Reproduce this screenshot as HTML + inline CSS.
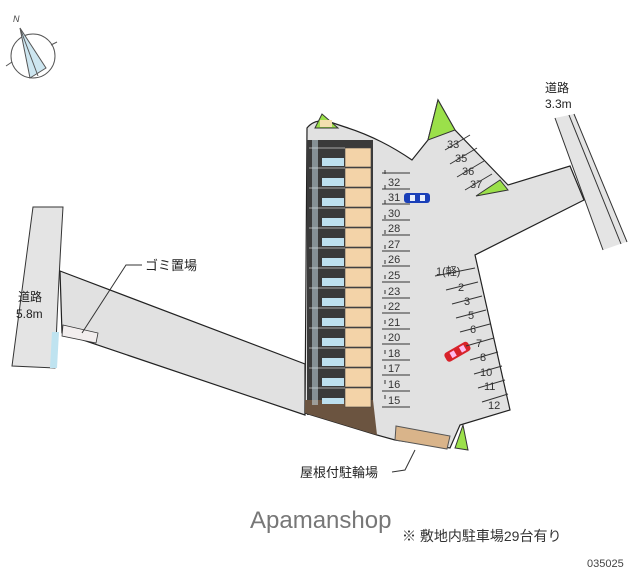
<!DOCTYPE html>
<html><head><meta charset="utf-8"><style>
html,body{margin:0;padding:0;background:#fff;}
svg{display:block;}
text{font-family:"Liberation Sans","Noto Sans CJK JP",sans-serif;}
</style></head><body>
<svg width="640" height="582" viewBox="0 0 640 582" xmlns="http://www.w3.org/2000/svg">
<!-- compass -->
<g stroke="#555" stroke-width="1" fill="none">
<circle cx="33" cy="56" r="22"/>
<line x1="6" y1="66" x2="12" y2="62"/><line x1="51" y1="45" x2="57" y2="42"/>
<polygon points="20,28 46,68 30,78" fill="#cde6f0"/>
<line x1="20" y1="28" x2="38" y2="76"/>
</g>
<text x="13" y="22" font-size="9" fill="#444" font-style="italic">N</text>
<!-- left road -->
<path d="M33,207 L63,207 Q58,290 55,368 L12,366 Q22,290 33,207Z" fill="#e4e4e4" stroke="#333" stroke-width="1"/>
<polygon points="52,332 59,332 57,368 50,368" fill="#bfe3f0"/>
<!-- left strip -->
<polygon points="60,271 305,364 305,415 62,333" fill="#e1e1e1" stroke="#222" stroke-width="1.2"/>
<polygon points="63,325 98,333 96,343 62,336" fill="#f2eeee" stroke="#333" stroke-width="0.8"/>
<polyline points="82,333 126,265 142,265" fill="none" stroke="#333" stroke-width="1"/>
<text x="145" y="270" font-size="13" fill="#222">ゴミ置場</text>
<text x="18" y="301" font-size="12" fill="#222">道路</text>
<text x="16" y="318" font-size="12" fill="#222">5.8m</text>
<!-- right road -->
<polygon points="555,118 574,114 626,242 603,250" fill="#e4e4e4"/>
<line x1="555" y1="118" x2="603" y2="250" stroke="#333"/>
<line x1="569" y1="115" x2="621" y2="244" stroke="#333"/>
<line x1="574" y1="114" x2="627" y2="242" stroke="#333"/>
<text x="545" y="92" font-size="12" fill="#222">道路</text>
<text x="545" y="108" font-size="12" fill="#222">3.3m</text>
<!-- main lot -->
<path d="M307,128 Q315,118 330,122 L345,127 Q380,138 412,160 L428,140 L438,100 L455,130 L508,185 L570,166 L584,200 L475,255 L510,410 L460,425 L450,448 L395,440 L377,435 L305,413 Z" fill="#e1e1e1" stroke="#222" stroke-width="1.2"/>
<polygon points="428,140 438,100 455,130" fill="#9be04a" stroke="#333"/>
<polygon points="476,196 500,180 508,190" fill="#9be04a" stroke="#333"/>
<polygon points="315,128 322,114 338,128" fill="#9be04a" stroke="#333"/>
<rect x="320" y="120" width="12" height="7" fill="#f3dfb0"/>
<polygon points="455,448 463,425 468,450" fill="#9be04a" stroke="#333"/>
<!-- bike shed -->
<polygon points="396,426 450,436 447,449 395,440" fill="#d9b48a" stroke="#555"/>
<polyline points="415,450 405,470 392,472" fill="none" stroke="#333"/>
<text x="300" y="477" font-size="13" fill="#222">屋根付駐輪場</text>
<!-- building -->
<rect x="307" y="140" width="66" height="275" fill="#3a3a3a"/>
<polygon points="305,400 373,400 377,435 305,413" fill="#6b5440"/>
<g fill="#f3d3a8" stroke="#444" stroke-width="0.6">
<rect x="345" y="148" width="26" height="19"/><rect x="345" y="168" width="26" height="19"/><rect x="345" y="188" width="26" height="19"/><rect x="345" y="208" width="26" height="19"/><rect x="345" y="228" width="26" height="19"/><rect x="345" y="248" width="26" height="19"/><rect x="345" y="268" width="26" height="19"/><rect x="345" y="288" width="26" height="19"/><rect x="345" y="308" width="26" height="19"/><rect x="345" y="328" width="26" height="19"/><rect x="345" y="348" width="26" height="19"/><rect x="345" y="368" width="26" height="19"/><rect x="345" y="388" width="26" height="19"/>
</g>
<g fill="#bde0ef">
<rect x="322" y="158" width="22" height="8"/><rect x="322" y="178" width="22" height="8"/><rect x="322" y="198" width="22" height="8"/><rect x="322" y="218" width="22" height="8"/><rect x="322" y="238" width="22" height="8"/><rect x="322" y="258" width="22" height="8"/><rect x="322" y="278" width="22" height="8"/><rect x="322" y="298" width="22" height="8"/><rect x="322" y="318" width="22" height="8"/><rect x="322" y="338" width="22" height="8"/><rect x="322" y="358" width="22" height="8"/><rect x="322" y="378" width="22" height="8"/><rect x="322" y="398" width="22" height="6"/>
</g>
<g stroke="#ccc" stroke-width="0.8">
<line x1="309" y1="148" x2="345" y2="148"/><line x1="309" y1="168" x2="345" y2="168"/><line x1="309" y1="188" x2="345" y2="188"/><line x1="309" y1="208" x2="345" y2="208"/><line x1="309" y1="228" x2="345" y2="228"/><line x1="309" y1="248" x2="345" y2="248"/><line x1="309" y1="268" x2="345" y2="268"/><line x1="309" y1="288" x2="345" y2="288"/><line x1="309" y1="308" x2="345" y2="308"/><line x1="309" y1="328" x2="345" y2="328"/><line x1="309" y1="348" x2="345" y2="348"/><line x1="309" y1="368" x2="345" y2="368"/><line x1="309" y1="388" x2="345" y2="388"/>
</g>
<rect x="312" y="140" width="6" height="265" fill="#cfe6ef" opacity="0.5"/>
<!-- left parking column -->
<g stroke="#333" stroke-width="1">
<line x1="382" y1="173" x2="410" y2="173"/><line x1="382" y1="189" x2="410" y2="189"/><line x1="382" y1="204" x2="410" y2="204"/><line x1="382" y1="220" x2="410" y2="220"/><line x1="382" y1="235" x2="410" y2="235"/><line x1="382" y1="251" x2="410" y2="251"/><line x1="382" y1="266" x2="410" y2="266"/><line x1="382" y1="282" x2="410" y2="282"/><line x1="382" y1="298" x2="410" y2="298"/><line x1="382" y1="313" x2="410" y2="313"/><line x1="382" y1="329" x2="410" y2="329"/><line x1="382" y1="344" x2="410" y2="344"/><line x1="382" y1="360" x2="410" y2="360"/><line x1="382" y1="375" x2="410" y2="375"/><line x1="382" y1="391" x2="410" y2="391"/><line x1="382" y1="407" x2="410" y2="407"/>
<line x1="385" y1="170" x2="385" y2="408" stroke-dasharray="4,11"/>
</g>
<g font-size="11" fill="#333">
<text x="388" y="186">32</text><text x="388" y="201">31</text><text x="388" y="217">30</text><text x="388" y="232">28</text><text x="388" y="248">27</text><text x="388" y="263">26</text><text x="388" y="279">25</text><text x="388" y="295">23</text><text x="388" y="310">22</text><text x="388" y="326">21</text><text x="388" y="341">20</text><text x="388" y="357">18</text><text x="388" y="372">17</text><text x="388" y="388">16</text><text x="388" y="404">15</text>
</g>
<!-- blue car -->
<rect x="404" y="193" width="26" height="10" rx="3" fill="#1a3fb8"/>
<rect x="410" y="195" width="5" height="6" fill="#e8eefc"/><rect x="420" y="195" width="5" height="6" fill="#e8eefc"/>
<!-- red car -->
<g transform="rotate(-30 457 352)"><rect x="444" y="347" width="27" height="10" rx="3" fill="#d8222a"/><rect x="450" y="349" width="5" height="6" fill="#fbe"/><rect x="461" y="349" width="5" height="6" fill="#fbe"/></g>
<!-- right parking -->
<g stroke="#333" stroke-width="1">
<line x1="435" y1="276" x2="475" y2="268"/><line x1="446" y1="290" x2="478" y2="282"/><line x1="452" y1="304" x2="482" y2="296"/><line x1="456" y1="318" x2="486" y2="310"/><line x1="460" y1="332" x2="490" y2="324"/><line x1="466" y1="346" x2="494" y2="338"/><line x1="470" y1="360" x2="498" y2="352"/><line x1="474" y1="374" x2="502" y2="366"/><line x1="478" y1="388" x2="505" y2="380"/><line x1="482" y1="402" x2="508" y2="394"/>
<line x1="445" y1="150" x2="470" y2="135"/><line x1="450" y1="164" x2="477" y2="148"/><line x1="457" y1="177" x2="484" y2="161"/><line x1="465" y1="190" x2="492" y2="174"/>
</g>
<g font-size="11" fill="#333">
<text x="436" y="275">1(軽)</text><text x="458" y="291">2</text><text x="464" y="305">3</text><text x="468" y="319">5</text><text x="470" y="333">6</text><text x="476" y="347">7</text><text x="480" y="361">8</text><text x="480" y="376">10</text><text x="484" y="390">11</text><text x="488" y="409">12</text>
<text x="447" y="148">33</text><text x="455" y="162">35</text><text x="462" y="175">36</text><text x="470" y="188">37</text>
</g>
<!-- footer -->
<text x="250" y="528" font-size="24" fill="#777">Apamanshop</text>
<text x="402" y="541" font-size="14" fill="#333">※ 敷地内駐車場29台有り</text>
<text x="587" y="567" font-size="11" fill="#444">035025</text>
</svg>
</body></html>
